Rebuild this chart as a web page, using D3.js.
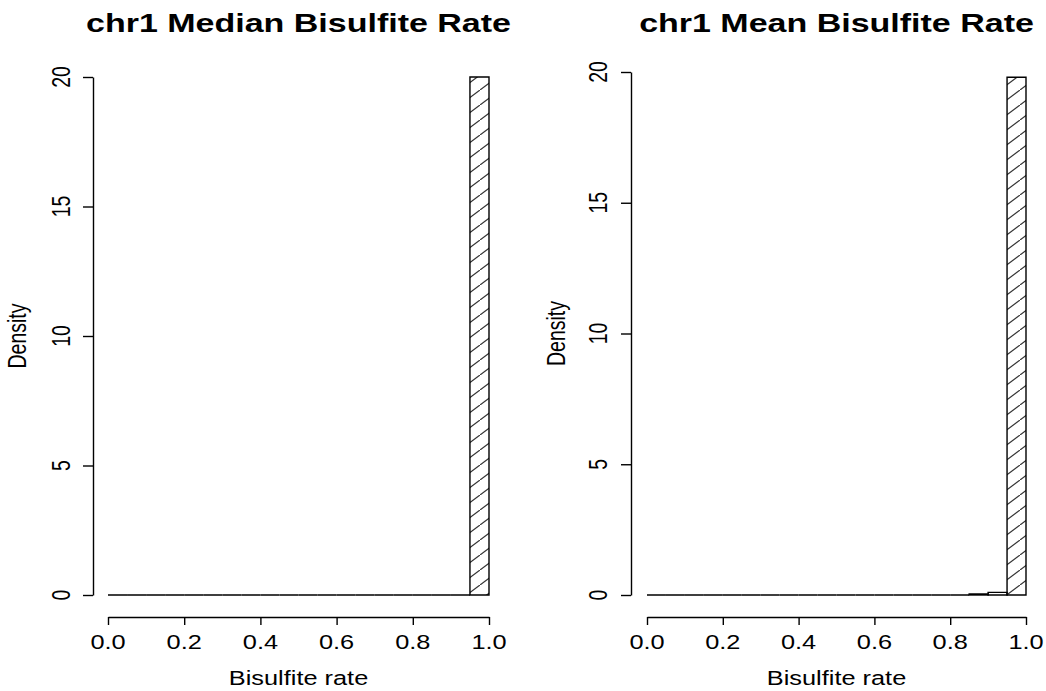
<!DOCTYPE html>
<html>
<head>
<meta charset="utf-8">
<script src="https://cdn.jsdelivr.net/npm/d3@7"></script>
<style>
  body { margin: 0; background: #fff; }
  text { font-family: "Liberation Sans", Arial, sans-serif; fill: #000; }
</style>
</head>
<body>
<svg width="1046" height="691"></svg>
<script>
// histogram breaks (bin edges)
var breaks = [0, 0.05, 0.1, 0.15, 0.2, 0.25, 0.3, 0.35, 0.4, 0.45, 0.5,
              0.55, 0.6, 0.65, 0.7, 0.75, 0.8, 0.85, 0.9, 0.95, 1.0];
// densities per bin
var medianDensity = [0, 0, 0, 0, 0, 0, 0, 0, 0, 0,
                     0, 0, 0, 0, 0, 0, 0, 0, 0, 20];
var meanDensity = [0, 0, 0, 0, 0, 0, 0, 0, 0, 0,
                   0, 0, 0, 0, 0, 0, 0, 0.04, 0.1, 19.8];
var xTicks = [0, 0.2, 0.4, 0.6, 0.8, 1.0];
var yTicks = [0, 5, 10, 15, 20];
var titles = ["chr1 Median Bisulfite Rate", "chr1 Mean Bisulfite Rate"];

var svg = d3.select("svg");
var sx = 1.3; // picture is stretched sideways

// hatch pattern, 45 degree lines (look flatter because of the stretch)
svg.append("defs").append("pattern")
    .attr("id", "hatch")
    .attr("patternUnits", "userSpaceOnUse")
    .attr("width", 20).attr("height", 15)
  .append("path")
    .attr("d", "M-5,18.75 L25,-3.75")
    .attr("stroke", "#333")
    .attr("stroke-width", 1.2);

var panels = [
  {title: titles[0], dens: medianDensity, x0: 108, x1: 489, yTop: 77, yAxisX: 93, tickLabX: 70, labX: 26},
  {title: titles[1], dens: meanDensity, x0: 647, x1: 1026, yTop: 72, yAxisX: 631, tickLabX: 607, labX: 565}
];

function stext(g, x, y, str, size, opts) {
  opts = opts || {};
  var t = g.append("text")
    .attr("transform", "translate(" + x + "," + y + ") scale(" + (opts.sx || sx) + ",1)" + (opts.rot ? " rotate(-90)" : ""))
    .attr("text-anchor", "middle")
    .style("font-size", size + "px")
    .text(str);
  if (opts.bold) t.style("font-weight", "bold");
  return t;
}

panels.forEach(function(p) {
  var g = svg.append("g");
  var x = d3.scaleLinear().domain([0, 1]).range([p.x0, p.x1]);
  var y = d3.scaleLinear().domain([0, 20]).range([595, p.yTop]);
  var cx = (x(0) + x(1)) / 2;

  // bars
  g.selectAll("path.bar")
    .data(p.dens)
    .enter().append("path")
    .attr("class", "bar")
    .attr("d", function(d, i) {
      var a = x(breaks[i]), b = x(breaks[i + 1]);
      return "M" + a + "," + y(0) + "L" + a + "," + y(d) + "L" + b + "," + y(d) + "L" + b + "," + y(0) + "Z";
    })
    .attr("fill", function(d) { return d > 1 ? "url(#hatch)" : "none"; })
    .attr("stroke", "#000")
    .attr("stroke-width", 1.4);

  // x axis
  var xAxis = d3.axisBottom(x).tickValues(xTicks).tickSize(8).tickSizeOuter(0)
    .tickFormat(d3.format(".1f"));
  var xg = g.append("g").attr("transform", "translate(0,617)").call(xAxis);
  xg.selectAll("text").remove();
  xg.selectAll("path, line").attr("stroke", "#000").attr("stroke-width", 1.4);
  xTicks.forEach(function(t) { stext(g, x(t), 649, d3.format(".1f")(t), 19.5); });

  // y axis
  var yAxis = d3.axisLeft(y).tickValues(yTicks).tickSize(10).tickSizeOuter(0);
  var yg = g.append("g").attr("transform", "translate(" + p.yAxisX + ",0)").call(yAxis);
  yg.selectAll("text").remove();
  yg.selectAll("path, line").attr("stroke", "#000").attr("stroke-width", 1.4);
  yTicks.forEach(function(t) { stext(g, p.tickLabX, y(t), t, 19.5, {rot: true}); });

  // labels
  stext(g, cx, 32, p.title, 25, {bold: true, sx: 1.36});
  stext(g, cx, 685, "Bisulfite rate", 19.5);
  stext(g, p.labX, (y(0) + y(20)) / 2, "Density", 19.5, {rot: true});
});
</script>
</body>
</html>
